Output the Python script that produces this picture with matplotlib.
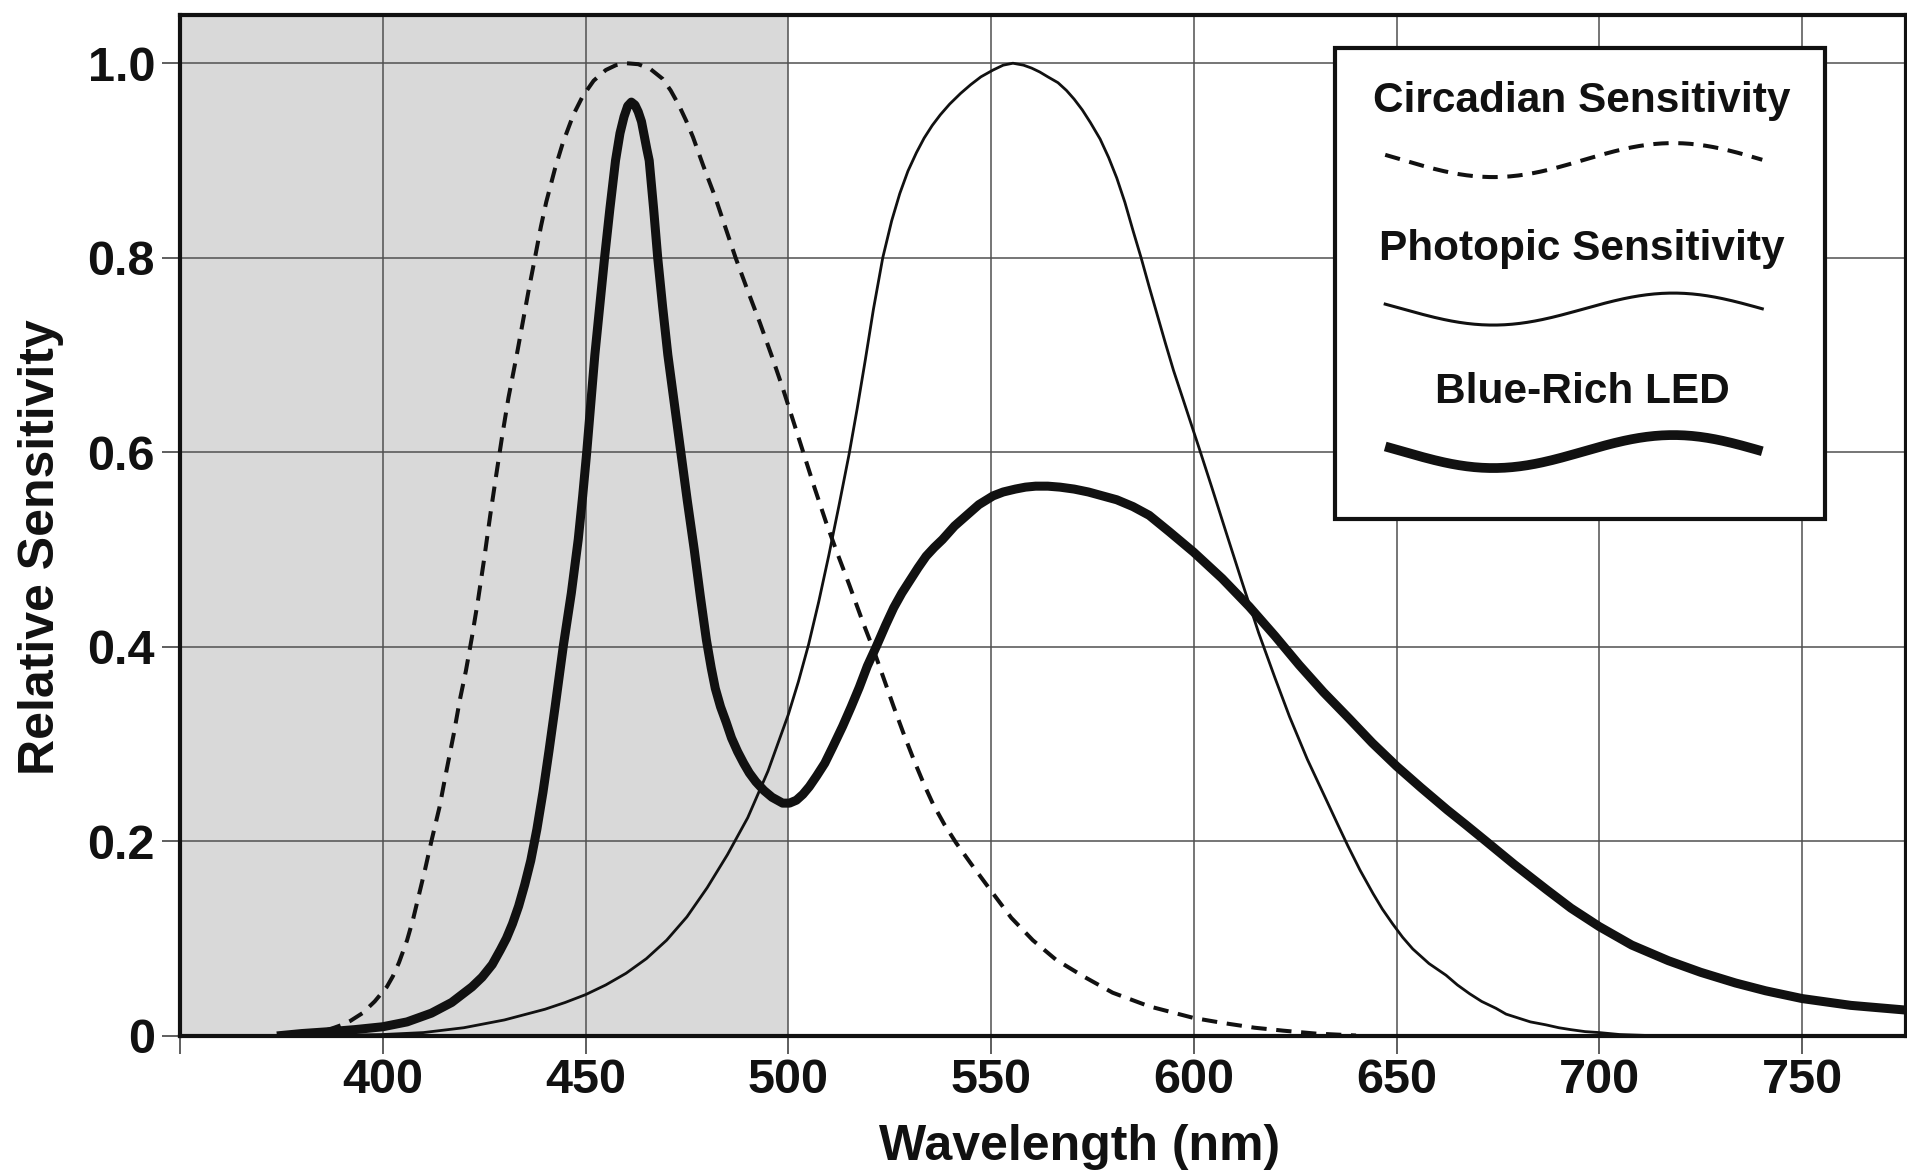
import matplotlib
matplotlib.use("Agg")
import matplotlib.pyplot as plt
import numpy as np
from matplotlib.patches import Rectangle

plt.rcParams['font.family'] = ['Liberation Sans', 'DejaVu Sans']
plt.rcParams['font.weight'] = 'bold'

# ---- spectral curves (wavelength in nm, relative sensitivity) ----
circadian_nm = [380, 383, 385, 388, 390, 392, 395, 398, 401, 402.5, 404, 406, 407.5, 409,
                410.5, 412, 414, 415.6, 417.5, 419, 420.5, 422, 423.5, 425, 426.5, 428,
                429.5, 431, 433, 434.5, 436, 437.4, 439, 440.3, 442.5, 444.4, 447, 449.3,
                452, 455, 457.5, 460, 463, 466, 469, 471, 473, 474.8, 476.5, 479, 482,
                484.5, 487, 490, 493, 496, 498.7, 501, 503.6, 506.5, 509.3, 512, 515, 518.4,
                521, 523.3, 526, 528.3, 531, 533.5, 535.7, 538.5, 541.4, 545, 550.5, 555,
                560.3, 566, 572.7, 580, 589, 600, 607, 615, 622, 630, 640]
circadian = [0.0, 0.002, 0.004, 0.008, 0.011, 0.015, 0.023, 0.035, 0.05, 0.061, 0.075,
             0.098, 0.12, 0.146, 0.172, 0.2, 0.235, 0.27, 0.31, 0.345, 0.375, 0.41, 0.448,
             0.49, 0.535, 0.577, 0.618, 0.656, 0.699, 0.733, 0.767, 0.797, 0.832, 0.857,
             0.892, 0.918, 0.947, 0.966, 0.982, 0.993, 0.998, 1.0, 0.999, 0.994, 0.984,
             0.972, 0.957, 0.941, 0.924, 0.895, 0.862, 0.831, 0.80, 0.766, 0.733, 0.698,
             0.665, 0.635, 0.601, 0.563, 0.528, 0.497, 0.464, 0.425, 0.397, 0.37, 0.338,
             0.312, 0.283, 0.258, 0.238, 0.217, 0.198, 0.177, 0.146, 0.121, 0.098, 0.078,
             0.061, 0.044, 0.03, 0.018, 0.013, 0.008, 0.005, 0.002, 0.0]

photopic_nm = [385, 400, 410, 420, 430, 440, 445, 450, 455, 460, 465, 470, 475, 480, 485,
               490, 495, 500, 502.5, 505, 507.5, 510, 512.5, 515, 517, 519, 521, 523.3,
               525.5, 527.5, 529.5, 531.6, 533.5, 535.5, 537.5, 539.8, 542.5, 545, 547.5,
               550.5, 553, 555.4, 558, 560, 562, 564, 566.5, 568.6, 570.5, 572.5, 574.5,
               576.9, 579, 581, 583, 585, 587, 589, 591, 593, 595, 597.3, 599.5, 601.4,
               604.5, 608, 612, 616, 620, 623.6, 628, 632.6, 635.5, 638, 641, 644.2, 646.5,
               649, 651.5, 654, 658, 662.2, 665, 668, 671, 674.5, 677, 680, 683, 686.8, 690,
               693, 696.5, 700, 705, 712]
photopic = [0.0, 0.001, 0.003, 0.008, 0.016, 0.027, 0.034, 0.042, 0.052, 0.064, 0.079,
            0.098, 0.122, 0.152, 0.186, 0.224, 0.272, 0.330, 0.364, 0.402, 0.446, 0.494,
            0.545, 0.598, 0.645, 0.695, 0.747, 0.80, 0.838, 0.866, 0.889, 0.908, 0.923,
            0.936, 0.947, 0.958, 0.969, 0.978, 0.986, 0.993, 0.998, 1.0, 0.998, 0.995,
            0.991, 0.986, 0.98, 0.972, 0.963, 0.952, 0.939, 0.922, 0.903, 0.882, 0.857,
            0.828, 0.80, 0.77, 0.741, 0.712, 0.684, 0.655, 0.627, 0.603, 0.563, 0.517,
            0.465, 0.414, 0.368, 0.328, 0.284, 0.243, 0.217, 0.195, 0.170, 0.146, 0.130,
            0.115, 0.101, 0.089, 0.074, 0.062, 0.052, 0.043, 0.035, 0.028, 0.022, 0.018,
            0.014, 0.011, 0.008, 0.006, 0.004, 0.003, 0.001, 0.0]

led_nm = [375, 380, 387, 393, 400, 406, 412, 417, 422, 424.5, 427, 429, 430.5, 432, 433.5,
          435, 436.5, 438, 439.5, 441, 442.5, 444.5, 446.5, 448.2, 449.3, 450.3, 451.3,
          452.3, 453.5, 454.7, 456, 457.4, 458.5, 459.5, 460.4, 461.3, 462.2, 463, 463.8,
          464.5, 465.1, 465.7, 466.8, 467.8, 469, 470.3, 471.9, 473.5, 475.1, 476.8, 478.3,
          479.8, 481, 482, 483.3, 484.7, 486, 487.5, 489, 490.4, 492, 494, 496, 498.6,
          500.3, 502, 503.6, 505.2, 507, 509, 511, 513.4, 515.5, 517.5, 519.5, 521.7, 524,
          526, 528, 530, 532, 534, 536, 538, 541, 544, 547, 550.5, 553, 556, 558.5, 561,
          564, 567, 570.5, 574, 577.5, 581, 585, 589, 594, 600, 607, 613.7, 620, 626, 632,
          638.3, 644, 650, 656, 662.5, 667, 672, 679, 687, 693, 700, 708, 717, 725, 733.6,
          741, 750, 762, 776]
led = [0.0, 0.002, 0.004, 0.006, 0.009, 0.014, 0.023, 0.034, 0.05, 0.06, 0.073, 0.088,
       0.1, 0.115, 0.133, 0.155, 0.18, 0.212, 0.25, 0.293, 0.338, 0.40, 0.455, 0.51, 0.555,
       0.60, 0.65, 0.70, 0.75, 0.80, 0.85, 0.90, 0.928, 0.945, 0.956, 0.96, 0.957, 0.95,
       0.94, 0.925, 0.912, 0.90, 0.85, 0.80, 0.75, 0.70, 0.65, 0.60, 0.55, 0.50, 0.452,
       0.407, 0.378, 0.357, 0.338, 0.322, 0.306, 0.292, 0.28, 0.27, 0.261, 0.252, 0.245,
       0.239, 0.239, 0.242, 0.248, 0.256, 0.267, 0.28, 0.297, 0.318, 0.338, 0.358, 0.38,
       0.40, 0.422, 0.44, 0.455, 0.468, 0.481, 0.493, 0.502, 0.51, 0.524, 0.535, 0.546,
       0.555, 0.559, 0.562, 0.564, 0.565, 0.565, 0.564, 0.562, 0.559, 0.555, 0.551, 0.544,
       0.535, 0.518, 0.497, 0.47, 0.441, 0.411, 0.381, 0.353, 0.326, 0.301, 0.277, 0.255,
       0.232, 0.217, 0.200, 0.176, 0.150, 0.131, 0.112, 0.093, 0.077, 0.065, 0.054, 0.046,
       0.038, 0.031, 0.026]

x_ticks = [350, 400, 450, 500, 550, 600, 650, 700, 750]
x_tick_labels = ['', '400', '450', '500', '550', '600', '650', '700', '750']
y_ticks = [0, 0.2, 0.4, 0.6, 0.8, 1.0]
y_tick_labels = ['0', '0.2', '0.4', '0.6', '0.8', '1.0']
legend_labels = ['Circadian Sensitivity', 'Photopic Sensitivity', 'Blue-Rich LED']

INK = '#111111'

fig = plt.figure(figsize=(19.08, 11.73), dpi=100)
ax = fig.add_axes([0.09434, 0.11722, 0.90477, 0.87033])

# shaded blue band
ax.axvspan(350, 500, color='#d9d9d9', lw=0, zorder=0)

ax.set_xlim(350, 775.7)
ax.set_ylim(0, 1.05)
ax.set_xticks(x_ticks)
ax.set_xticklabels(x_tick_labels)
ax.set_yticks(y_ticks)
ax.set_yticklabels(y_tick_labels)
ax.set_axisbelow(True)
ax.grid(True, color='#505050', lw=1.1)

ax.tick_params(axis='both', direction='out', length=13, width=1.1, color='#333333',
               labelsize=35, labelcolor=INK)
ax.tick_params(axis='x', pad=3)
ax.tick_params(axis='y', pad=5)
for s in ax.spines.values():
    s.set_linewidth(3)
    s.set_color(INK)

dash = (0, (3.8, 2.4))
ax.plot(circadian_nm, circadian, color=INK, lw=2.9, ls=dash, dash_capstyle='butt', zorder=3)
ax.plot(photopic_nm, photopic, color=INK, lw=2.0, zorder=3, solid_joinstyle='round')
ax.plot(led_nm, led, color=INK, lw=6.5, zorder=4, solid_joinstyle='round')

ax.set_xlabel('Wavelength (nm)', fontsize=36, fontweight='bold', color=INK)
ax.xaxis.set_label_coords(0.521, -0.087)
ax.set_ylabel('Relative Sensitivity', fontsize=36, fontweight='bold', color=INK)
ax.yaxis.set_label_coords(-0.0672, 0.478)

# ---- legend panel with wavy sample strokes ----
W, H = 1726.0, 1021.0          # axes size in pixels
X0, Y0 = 180.0, 1035.5          # axes origin (pixels from top-left)


def to_axes(xp, yp):
    return (np.asarray(xp) - X0) / W, (Y0 - np.asarray(yp)) / H


bx0, by0 = to_axes(1335, 519)
bx1, by1 = to_axes(1825, 48)
ax.add_patch(Rectangle((bx0, by0), bx1 - bx0, by1 - by0, transform=ax.transAxes,
                       facecolor='white', edgecolor=INK, lw=3, zorder=5))

text_base = [111.7, 260, 403.3]
wave_center = [160, 309, 451.5]
wave_amp = [17, 16, 16.5]
wave_styles = [dict(lw=2.9, ls=dash, dash_capstyle='butt'),
               dict(lw=2.2),
               dict(lw=7.0, solid_capstyle='butt')]

for lab, tb, wc, wa, st in zip(legend_labels, text_base, wave_center, wave_amp, wave_styles):
    tx, ty = to_axes(1582, tb)
    ax.text(tx, ty, lab, transform=ax.transAxes, ha='center', va='baseline',
            fontsize=30.5, fontweight='bold', color=INK, zorder=6)
    xs = np.linspace(1385, 1762, 200)
    ys = wc + wa * np.cos(2 * np.pi * (xs - 1493) / 360.0)
    wx, wy = to_axes(xs, ys)
    ax.plot(wx, wy, transform=ax.transAxes, color=INK, zorder=6, clip_on=False, **st)

fig.savefig('out.png', dpi=100, facecolor='white')
